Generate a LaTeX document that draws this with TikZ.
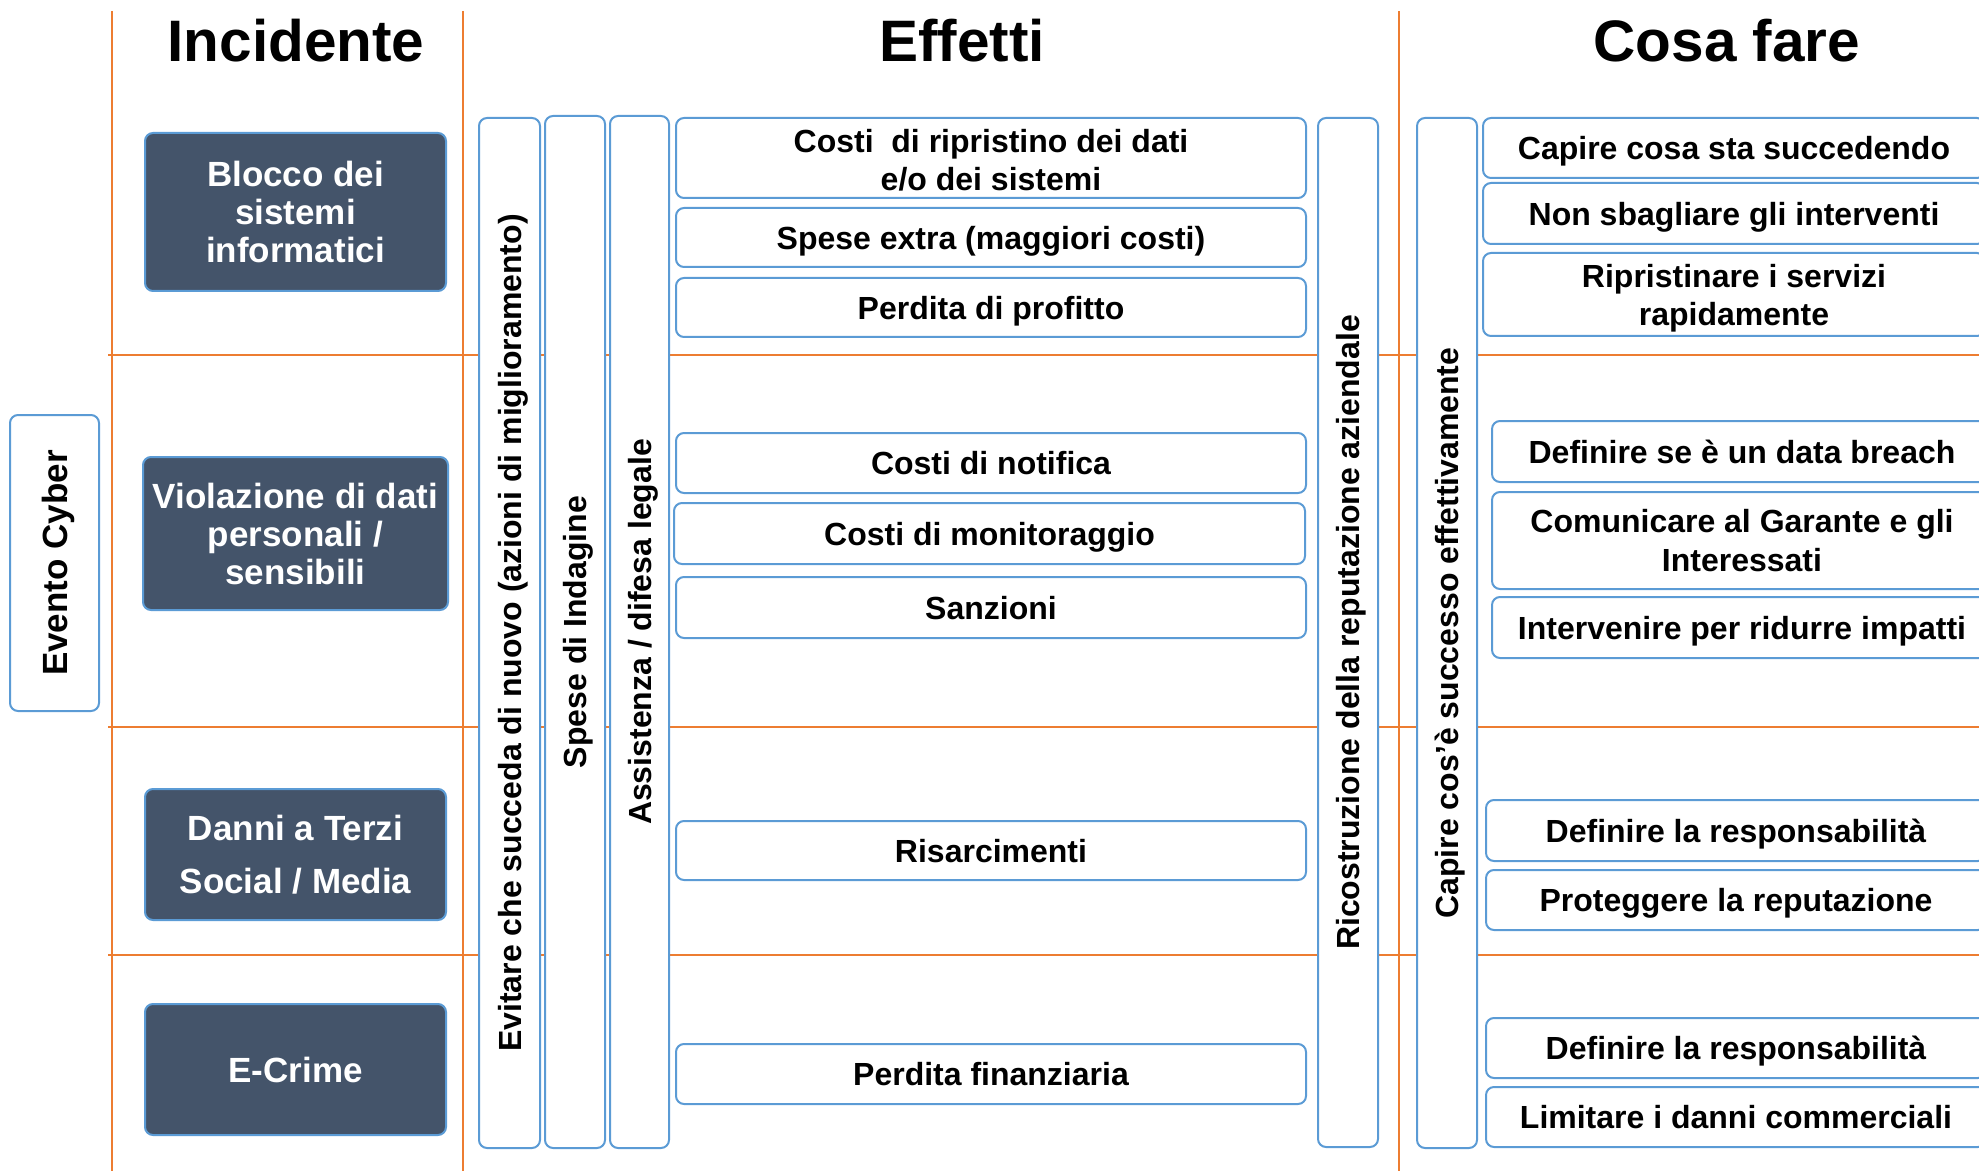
\documentclass[tikz,border=0pt]{standalone}
\usepackage{fontspec}
\setmainfont{Liberation Sans}
\definecolor{boxblue}{RGB}{91,155,213}
\definecolor{darkfill}{RGB}{68,84,106}
\definecolor{orng}{RGB}{237,125,49}
\tikzset{
  bx/.style={draw=boxblue, line width=1pt, rounded corners=4pt, fill=white, inner sep=0pt,
    font=\bfseries\fontsize{16}{19.25}\selectfont, align=center},
  one/.style={text height=11.7pt, text depth=0pt},
  inc/.style={bx, fill=darkfill, text=white, font=\bfseries\fontsize{17.5}{19}\selectfont},
  vbox/.style={bx, one, rotate=90},
  ttl/.style={font=\bfseries\fontsize{29.25}{35}\selectfont, anchor=base, inner sep=0pt},
  gridline/.style={draw=orng, line width=0.8pt}
}
\begin{document}
\begin{tikzpicture}[x=0.5pt,y=-0.5pt]
\useasboundingbox (0,0) rectangle (1979,1171);
% grid lines
\coordinate (h1a) at (108,355); \coordinate (h1b) at (1979,355);
\coordinate (h2a) at (108,727); \coordinate (h2b) at (1979,727);
\coordinate (h3a) at (108,955); \coordinate (h3b) at (1979,955);
\coordinate (v1a) at (111.7,11); \coordinate (v1b) at (111.7,1171);
\coordinate (v2a) at (463,11); \coordinate (v2b) at (463,1171);
\coordinate (v3a) at (1399,11); \coordinate (v3b) at (1399,1171);
\draw[gridline] (h1a) -- (h1b);
\draw[gridline] (h2a) -- (h2b);
\draw[gridline] (h3a) -- (h3b);
\draw[gridline] (v1a) -- (v1b);
\draw[gridline] (v2a) -- (v2b);
\draw[gridline] (v3a) -- (v3b);
% titles
\node[ttl] (t1) at (296,62) {Incidente};
\node[ttl] (t2) at (962,62) {Effetti};
\node[ttl] (t3) at (1727,62) {Cosa fare};
% evento
\node[bx, rotate=90, text height=12.8pt, text depth=0pt, minimum width=148pt, minimum height=44.5pt, font=\bfseries\fontsize{17.5}{19}\selectfont] (ev) at (54.5,563) {Evento Cyber};
% incident boxes
\node[inc, minimum width=150.5pt, minimum height=79pt] (inc1) at (295.5,212) {Blocco dei\\sistemi\\informatici};
\node[inc, minimum width=152.5pt, minimum height=76.5pt] (inc2) at (295.5,533.5) {Violazione di dati\\personali /\\sensibili};
\node[inc, minimum width=150.5pt, minimum height=65.5pt, font=\bfseries\fontsize{17.5}{26.5}\selectfont] (inc3) at (295.5,854.5) {Danni a Terzi\\Social / Media};
\node[inc, minimum width=150.5pt, minimum height=65.5pt] (inc4) at (295.5,1069.5) {E-Crime};
% vertical boxes
\node[vbox, minimum width=515pt, minimum height=30.5pt] (vb1) at (509.5,633) {Evitare che succeda di nuovo (azioni di miglioramento)};
\node[vbox, minimum width=516pt, minimum height=30pt] (vb2) at (575,632) {Spese di Indagine};
\node[vbox, minimum width=516pt, minimum height=29.5pt] (vb3) at (639.5,632) {Assistenza / difesa legale};
\node[vbox, minimum width=514.5pt, minimum height=30pt] (vb4) at (1348,632.5) {Ricostruzione della reputazione aziendale};
\node[vbox, minimum width=515pt, minimum height=30pt] (vb5) at (1447,633) {Capire cos’è successo effettivamente};
% effetti
\node[bx, minimum width=315pt, minimum height=40pt] (e1) at (991,158) {\rule{0pt}{13.6pt}Costi\ \ di ripristino dei dati\\e/o dei sistemi};
\node[bx, one, minimum width=315pt, minimum height=29.5pt] (e2) at (991,237.5) {Spese extra (maggiori costi)};
\node[bx, one, minimum width=315pt, minimum height=29.5pt] (e3) at (991,307.5) {Perdita di profitto};
\node[bx, one, minimum width=315pt, minimum height=30pt] (e4) at (991,463) {Costi di notifica};
\node[bx, one, minimum width=315.5pt, minimum height=30.5pt] (e5) at (989.5,533.5) {Costi di monitoraggio};
\node[bx, one, minimum width=315pt, minimum height=30.5pt] (e6) at (991,607.5) {Sanzioni};
\node[bx, one, minimum width=315pt, minimum height=29.5pt] (e7) at (991,850.5) {Risarcimenti};
\node[bx, one, minimum width=315pt, minimum height=30pt] (e8) at (991,1074) {Perdita finanziaria};
% cosa fare
\node[bx, one, minimum width=251pt, minimum height=30pt] (c1) at (1734,148) {Capire cosa sta succedendo};
\node[bx, one, minimum width=251pt, minimum height=30.5pt] (c2) at (1734,213.5) {Non sbagliare gli interventi};
\node[bx, minimum width=251pt, minimum height=41.5pt] (c3) at (1734,294.5) {\rule{0pt}{15.5pt}Ripristinare i servizi\\rapidamente};
\node[bx, one, minimum width=250pt, minimum height=30.5pt] (c4) at (1742,451.5) {Definire se è un data breach};
\node[bx, minimum width=250pt, minimum height=48.5pt] (c5) at (1742,540.5) {Comunicare al Garante e gli\\Interessati};
\node[bx, one, minimum width=250pt, minimum height=30.5pt] (c6) at (1742,627.5) {Intervenire per ridurre impatti};
\node[bx, one, minimum width=250pt, minimum height=30.5pt] (c7) at (1736,830.5) {Definire la responsabilità};
\node[bx, one, minimum width=250pt, minimum height=30pt] (c8) at (1736,900) {Proteggere la reputazione};
\node[bx, one, minimum width=250pt, minimum height=30pt] (c9) at (1736,1048) {Definire la responsabilità};
\node[bx, one, minimum width=250pt, minimum height=30pt] (c10) at (1736,1117) {Limitare i danni commerciali};
\end{tikzpicture}
\end{document}
